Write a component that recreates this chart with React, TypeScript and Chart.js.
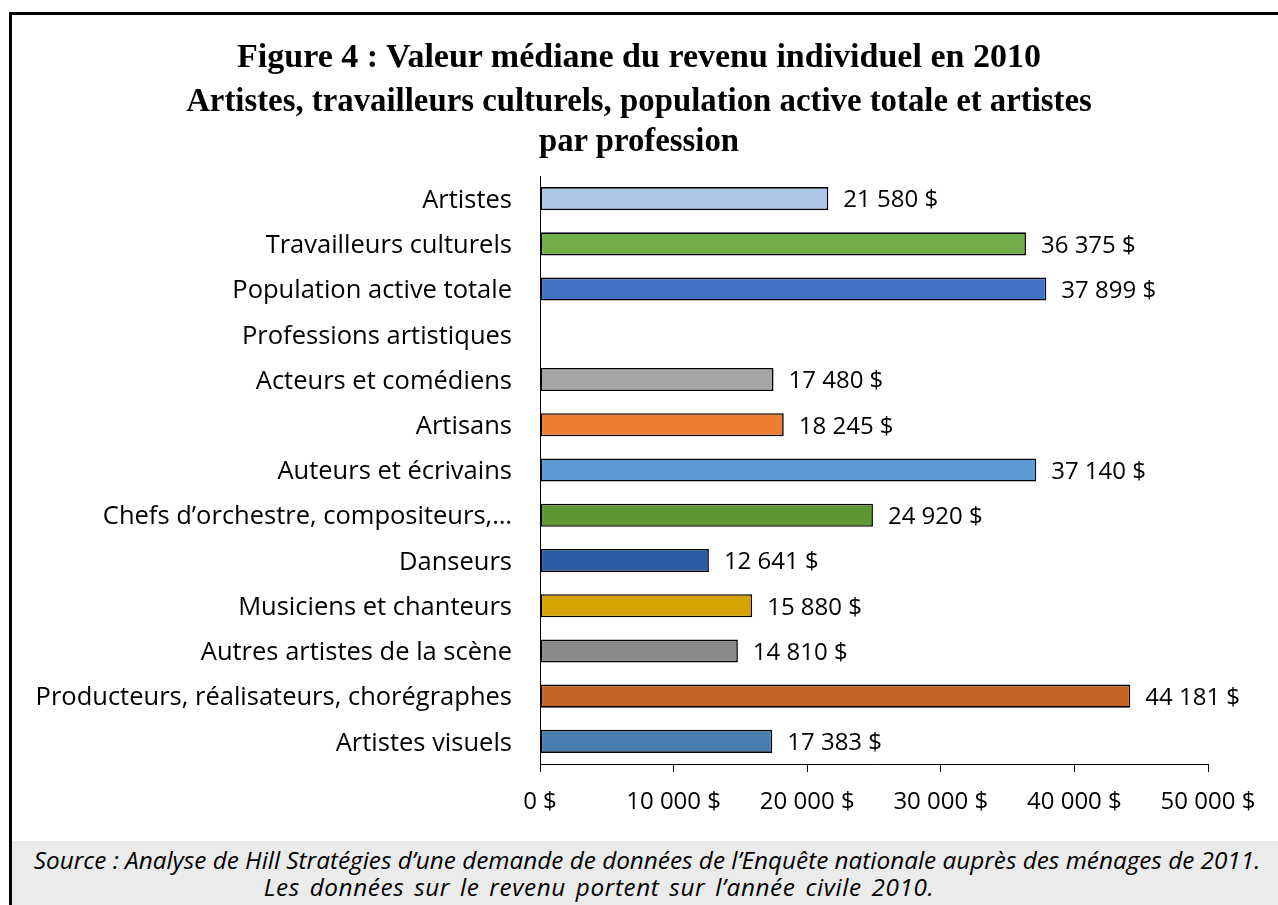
import React, { useEffect, useRef } from "react";
import { Chart, registerables } from "chart.js";

Chart.register(...registerables);

const categories = [
  "Artistes",
  "Travailleurs culturels",
  "Population active totale",
  "Professions artistiques",
  "Acteurs et comédiens",
  "Artisans",
  "Auteurs et écrivains",
  "Chefs d’orchestre, compositeurs,…",
  "Danseurs",
  "Musiciens et chanteurs",
  "Autres artistes de la scène",
  "Producteurs, réalisateurs, chorégraphes",
  "Artistes visuels",
];

const values: (number | null)[] = [
  21580, 36375, 37899, null, 17480, 18245, 37140, 24920, 12641, 15880, 14810, 44181, 17383,
];

const barColors = [
  "#AEC6E6",
  "#70AD47",
  "#4472C4",
  "#FFFFFF",
  "#A5A5A5",
  "#ED7D31",
  "#5B9BD5",
  "#5E9732",
  "#2F5DA5",
  "#D5A200",
  "#8A8A8A",
  "#C5652A",
  "#4A7EAF",
];

const xTicks = [0, 10000, 20000, 30000, 40000, 50000];

const titleLine = "Figure 4 : Valeur médiane du revenu individuel en 2010";
const subtitleLines = [
  "Artistes, travailleurs culturels, population active totale et artistes",
  "par profession",
];
const sourceLines = [
  "Source : Analyse de Hill Stratégies d’une demande de données de l’Enquête nationale auprès des ménages de 2011.",
  "Les données sur le revenu portent sur l’année civile 2010.",
];

const fmt = (v: number) =>
  String(Math.round(v)).replace(/\B(?=(\d{3})+(?!\d))/g, " ") + " $";

const SANS = "'Open Sans', Lato, sans-serif";
const SERIF = "'Liberation Serif', 'DejaVu Serif', serif";

const valueLabelPlugin = {
  id: "valueLabels",
  afterDatasetsDraw(chart: any) {
    const ctx = chart.ctx;
    const meta = chart.getDatasetMeta(0);
    ctx.save();
    ctx.font = `24px ${SANS}`;
    ctx.fillStyle = "#000";
    ctx.textAlign = "left";
    ctx.textBaseline = "middle";
    meta.data.forEach((bar: any, i: number) => {
      const v = values[i];
      if (v == null) return;
      ctx.fillText(fmt(v), bar.x + 15, bar.y + 2);
    });
    ctx.restore();
  },
};

export default function App() {
  const ref = useRef<HTMLCanvasElement>(null);

  useEffect(() => {
    if (!ref.current) return;
    const chart = new Chart(ref.current, {
      type: "bar",
      data: {
        labels: categories,
        datasets: [
          {
            data: values as any,
            backgroundColor: barColors,
            borderColor: "#000",
            borderWidth: 1.6,
            borderSkipped: false,
            barPercentage: 0.51,
            categoryPercentage: 1,
          },
        ],
      },
      options: {
        indexAxis: "y",
        animation: false,
        responsive: false,
        maintainAspectRatio: false,
        layout: { padding: { left: 0, right: 70, top: 176, bottom: 20 } },
        plugins: {
          legend: { display: false },
          tooltip: { enabled: false },
          title: { display: false },
        },
        scales: {
          x: {
            type: "linear",
            min: 0,
            max: 50000,
            afterBuildTicks: (scale: any) => {
              scale.ticks = xTicks.map((v) => ({ value: v }));
            },
            afterFit: (scale: any) => {
              scale.height = 57;
            },
            grid: {
              drawOnChartArea: false,
              drawTicks: true,
              tickLength: 8,
              color: "#000",
              lineWidth: 1,
            },
            border: { display: true, color: "#000", width: 1 },
            ticks: {
              color: "#000",
              font: { family: SANS, size: 24 },
              padding: 16,
              maxRotation: 0,
              callback: (v: any) => fmt(Number(v)),
            },
          },
          y: {
            type: "category",
            afterFit: (scale: any) => {
              scale.width = 540;
            },
            grid: { display: false, drawTicks: false },
            border: { display: true, color: "#000", width: 1 },
            ticks: {
              color: "#000",
              font: { family: SANS, size: 25.5 },
              padding: 28,
              labelOffset: 2,
              autoSkip: false,
            },
          },
        },
      },
      plugins: [valueLabelPlugin],
    });
    return () => chart.destroy();
  }, []);

  const titleStyle: React.CSSProperties = {
    position: "absolute",
    left: 0,
    width: 1278,
    textAlign: "center",
    fontFamily: SERIF,
    fontWeight: "bold",
    color: "#000",
    whiteSpace: "nowrap",
  };

  return (
    <div
      style={{
        position: "absolute",
        left: 0,
        top: 0,
        width: 1278,
        height: 905,
        background: "#fff",
        overflow: "hidden",
      }}
    >
      <canvas
        ref={ref}
        width={1278}
        height={841}
        style={{ position: "absolute", left: 0, top: 0, width: 1278, height: 841 }}
      />
      <div style={{ ...titleStyle, top: 36, height: 40, lineHeight: "40px", fontSize: 34 }}>
        {titleLine}
      </div>
      <div style={{ ...titleStyle, top: 80, height: 40, lineHeight: "40px", fontSize: 32.8 }}>
        {subtitleLines[0]}
      </div>
      <div style={{ ...titleStyle, top: 120, height: 40, lineHeight: "40px", fontSize: 32.8 }}>
        {subtitleLines[1]}
      </div>
      <div
        style={{
          position: "absolute",
          left: 12,
          top: 841,
          width: 1266,
          height: 64,
          background: "#EBEBEB",
          fontFamily: SANS,
          fontStyle: "italic",
          fontSize: 24.3,
          lineHeight: "27px",
          color: "#000",
          paddingTop: 5,
          boxSizing: "border-box",
        }}
      >
        <div style={{ whiteSpace: "nowrap", textAlign: "center", paddingLeft: 4 }}>
          {sourceLines[0]}
        </div>
        <div
          style={{
            whiteSpace: "nowrap",
            textAlign: "center",
            paddingRight: 92,
            letterSpacing: 0.6,
            wordSpacing: 3,
          }}
        >
          {sourceLines[1]}
        </div>
      </div>
      <div
        style={{
          position: "absolute",
          left: 9,
          top: 12,
          width: 1269,
          height: 3,
          background: "#000",
        }}
      />
      <div
        style={{
          position: "absolute",
          left: 9,
          top: 12,
          width: 3,
          height: 893,
          background: "#000",
        }}
      />
    </div>
  );
}
